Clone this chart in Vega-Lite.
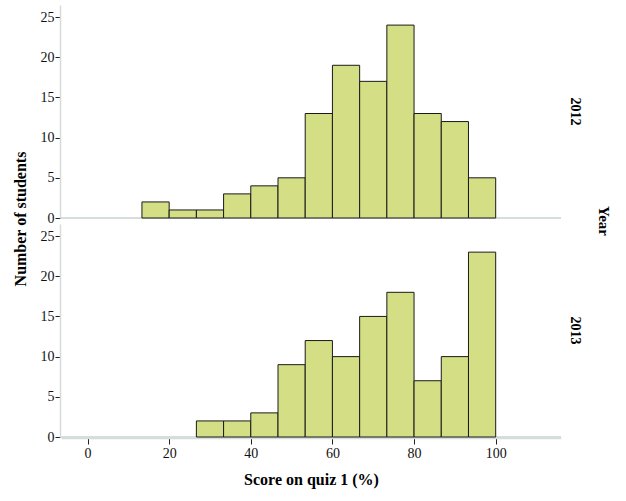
{
  "$schema": "https://vega.github.io/schema/vega-lite/v6.json",
  "padding": {"left": 12, "top": 5, "right": 5, "bottom": 5},
  "title": {
    "text": "Number of students",
    "orient": "left",
    "anchor": "middle",
    "font": "Liberation Serif",
    "fontSize": 16,
    "fontWeight": "bold",
    "color": "#000000",
    "offset": 11,
    "dx": 27
  },
  "data": {"values": [
    {"year": "2012", "bin_start": 13.333, "bin_end": 20, "count": 2},
    {"year": "2012", "bin_start": 20, "bin_end": 26.667, "count": 1},
    {"year": "2012", "bin_start": 26.667, "bin_end": 33.333, "count": 1},
    {"year": "2012", "bin_start": 33.333, "bin_end": 40, "count": 3},
    {"year": "2012", "bin_start": 40, "bin_end": 46.667, "count": 4},
    {"year": "2012", "bin_start": 46.667, "bin_end": 53.333, "count": 5},
    {"year": "2012", "bin_start": 53.333, "bin_end": 60, "count": 13},
    {"year": "2012", "bin_start": 60, "bin_end": 66.667, "count": 19},
    {"year": "2012", "bin_start": 66.667, "bin_end": 73.333, "count": 17},
    {"year": "2012", "bin_start": 73.333, "bin_end": 80, "count": 24},
    {"year": "2012", "bin_start": 80, "bin_end": 86.667, "count": 13},
    {"year": "2012", "bin_start": 86.667, "bin_end": 93.333, "count": 12},
    {"year": "2012", "bin_start": 93.333, "bin_end": 100, "count": 5},
    {"year": "2013", "bin_start": 26.667, "bin_end": 33.333, "count": 2},
    {"year": "2013", "bin_start": 33.333, "bin_end": 40, "count": 2},
    {"year": "2013", "bin_start": 40, "bin_end": 46.667, "count": 3},
    {"year": "2013", "bin_start": 46.667, "bin_end": 53.333, "count": 9},
    {"year": "2013", "bin_start": 53.333, "bin_end": 60, "count": 12},
    {"year": "2013", "bin_start": 60, "bin_end": 66.667, "count": 10},
    {"year": "2013", "bin_start": 66.667, "bin_end": 73.333, "count": 15},
    {"year": "2013", "bin_start": 73.333, "bin_end": 80, "count": 18},
    {"year": "2013", "bin_start": 80, "bin_end": 86.667, "count": 7},
    {"year": "2013", "bin_start": 86.667, "bin_end": 93.333, "count": 10},
    {"year": "2013", "bin_start": 93.333, "bin_end": 100, "count": 23}
  ]},
  "facet": {
    "row": {
      "field": "year",
      "type": "nominal",
      "title": "Year",
      "header": {
        "labelOrient": "right",
        "labelAngle": 90,
        "labelFont": "Liberation Serif",
        "labelFontSize": 14,
        "labelFontWeight": "bold",
        "labelColor": "#000000",
        "labelPadding": 6,
        "titleOrient": "right",
        "titleAngle": 90,
        "titleFont": "Liberation Serif",
        "titleFontSize": 15,
        "titleFontWeight": "bold",
        "titleColor": "#000000",
        "titlePadding": 4
      }
    }
  },
  "spacing": 5,
  "spec": {
    "width": 500,
    "height": 213,
    "layer": [
      {
        "mark": {"type": "rule", "color": "#d6dcdc", "strokeWidth": 1.5},
        "encoding": {"y": {"datum": 0, "type": "quantitative"}}
      },
      {
        "mark": {"type": "rect", "fill": "#d4de85", "stroke": "#1a1a1a", "strokeWidth": 1},
        "encoding": {
          "x": {
            "field": "bin_start",
            "type": "quantitative",
            "scale": {"domain": [-6.5, 116], "nice": false, "zero": false},
            "axis": {"values": [0, 20, 40, 60, 80, 100]},
            "title": "Score on quiz 1 (%)"
          },
          "x2": {"field": "bin_end"},
          "y": {
            "field": "count",
            "type": "quantitative",
            "scale": {"domain": [0, 26.5], "nice": false},
            "axis": {"values": [0, 5, 10, 15, 20, 25], "title": null}
          }
        }
      }
    ]
  },
  "config": {
    "view": {"stroke": null},
    "axis": {
      "grid": false,
      "labelFont": "Liberation Serif",
      "labelFontSize": 14,
      "labelColor": "#111111",
      "titleFont": "Liberation Serif",
      "titleFontSize": 16,
      "titleFontWeight": "bold",
      "titleColor": "#000000",
      "domainColor": "#d6dcdc",
      "domainWidth": 1.5,
      "tickColor": "#222222",
      "tickSize": 6
    },
    "axisX": {"labelPadding": 2, "titlePadding": 11},
    "axisY": {"labelPadding": 1, "tickSize": 5}
  }
}
